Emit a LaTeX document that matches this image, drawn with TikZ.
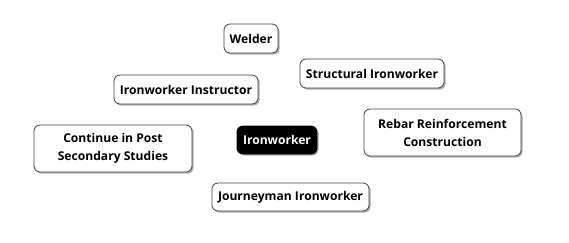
\documentclass[tikz,border=0pt]{standalone}
\usepackage{fontspec}
\setmainfont{Open Sans}
\usetikzlibrary{shadows}
\begin{document}
\begin{tikzpicture}[x=1pt,y=-1pt,
  box/.style={draw=black!75, line width=0.8pt, fill=white, rounded corners=6pt,
    inner sep=0pt, align=center, font=\fontsize{12.1}{18}\selectfont\bfseries,
    drop shadow={shadow xshift=1.6pt, shadow yshift=-1.6pt, fill=black!45, opacity=0.7}},
  central/.style={box, fill=black, text=white, draw=black}]
\useasboundingbox (0,0) rectangle (569,242);
\node[box, minimum width=54pt, minimum height=29pt] (welder) at (251,38.5) {Welder};
\node[box, minimum width=144pt, minimum height=29pt] (instr) at (186,89.5) {Ironworker Instructor};
\node[box, minimum width=158pt, minimum height=47pt] (cont) at (113,148.5) {Continue in Post\\Secondary Studies};
\node[central, minimum width=80pt, minimum height=28pt] (iron) at (277,140) {Ironworker};
\node[box, minimum width=157pt, minimum height=28pt] (journ) at (290.5,197) {Journeyman Ironworker};
\node[box, minimum width=144pt, minimum height=29pt] (struct) at (372,73.5) {Structural Ironworker};
\node[box, minimum width=157pt, minimum height=47pt] (rebar) at (442.5,132.5) {Rebar Reinforcement\\Construction};
\end{tikzpicture}
\end{document}
